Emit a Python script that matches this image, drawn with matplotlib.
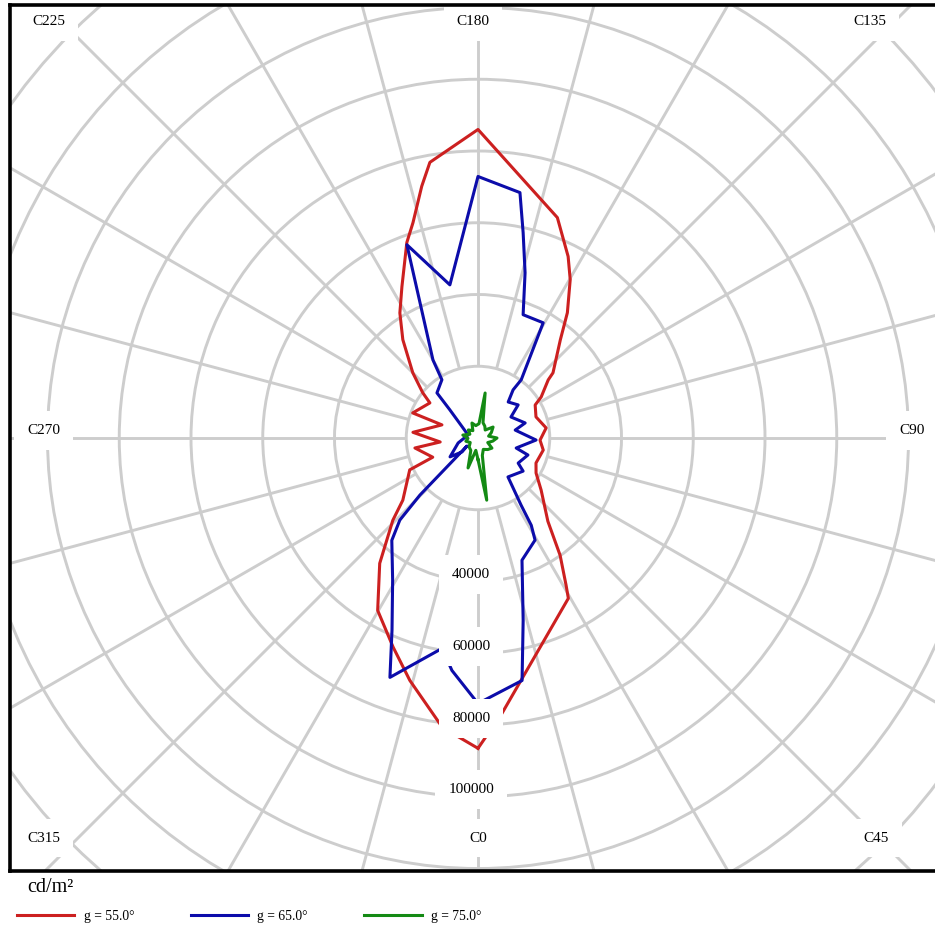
import matplotlib.pyplot as plt
import numpy as np
from matplotlib.patches import Circle

# luminance curves, C-plane angle (deg) -> cd/m2
red_angles = [0, 5, 29.4, 30.9, 35, 40, 50.5, 58.9, 66.7, 79.5, 88, 98.4, 110, 120, 123,
              129.6, 131, 140, 144.5, 149.8, 153.6, 160.2, 180, 189.9, 192.6, 196.8, 200,
              206.7, 212, 217.4, 225, 230.7, 233.9, 249, 250, 265, 276, 279, 293, 295,
              309.6, 314, 321.9, 329.8, 337.9, 344.3, 353]
red_values = [86500, 77000, 51300, 47800, 39900, 30300, 22800, 18900, 17600, 18500, 17300,
              19200, 17200, 18400, 21000, 25400, 27700, 35700, 42900, 51100, 56500, 65300,
              86000, 78000, 71900, 62700, 58000, 47200, 41100, 34500, 25700, 19900, 16600,
              19500, 10700, 18200, 10600, 17800, 13700, 21000, 27200, 33000, 44400, 55600,
              62900, 70200, 81300]

blue_angles = [0, 10.3, 13.9, 19.8, 29.2, 31.4, 32.7, 37.6, 53.7, 58, 71.2, 75.3, 88, 102,
               107.7, 122.5, 129.5, 140, 143.9, 143.4, 150.5, 159.9, 164.1, 167.6, 170.3,
               180, 190.4, 200.2, 210, 211.8, 222.3, 225, 236.3, 253, 284, 304, 311, 306,
               314.5, 316.4, 319.9, 329, 335.9, 339.8, 350.3, 353.6]
blue_values = [74000, 68700, 52400, 36200, 32600, 28500, 22200, 13700, 15600, 13200, 14700,
               11000, 16200, 10600, 13800, 10900, 14500, 13100, 16600, 20200, 36900, 36600,
               47900, 58600, 69400, 72900, 43400, 57400, 25100, 19100, 17000, 11100, 5000,
               2900, 5700, 9400, 5900, 3800, 22700, 31600, 37300, 46200, 58700, 71100,
               59500, 65200]

green_angles = [0, 8, 14, 25, 40, 54, 65, 78, 90, 100, 112, 126, 138, 150, 162, 171, 176,
                190, 202, 215, 230, 245, 259, 272, 285, 300, 315, 330, 341.6, 350]
green_values = [6000, 17500, 5000, 3500, 4200, 4800, 3000, 4200, 5300, 3000, 4000, 5200,
                3000, 3800, 4500, 12700, 4000, 3500, 4500, 2500, 3500, 2500, 4300, 2800,
                3500, 2500, 3500, 4000, 8800, 3500]

ring_values = np.arange(20000, 180000, 20000)
spoke_angles = np.arange(0, 360, 15)
ring_labels = [40000, 60000, 80000, 100000]

plane_labels = ['C225', 'C180', 'C135', 'C270', 'C90', 'C315', 'C0', 'C45']
plane_pos = [(0.0406, 0.9804), (0.4766, 0.9804), (0.8848, 0.9804),
             (0.0350, 0.5092), (0.9280, 0.5092),
             (0.0350, 0.0381), (0.4818, 0.0381), (0.8910, 0.0381)]


def to_xy(angles, values):
    t = np.radians(np.append(angles, angles[0]))
    v = np.append(values, values[0])
    return v * np.sin(t), -v * np.cos(t)


W, H = 935, 930
s = 3.5875 / 1000  # px per cd/m2
fig = plt.figure(figsize=(W / 100, H / 100), dpi=100)
ax = fig.add_axes([9.5 / W, 1 - 871 / H, 972.5 / W, 866 / H])
ax.set_xlim(-(478 - 9.5) / s, (982 - 478) / s)
ax.set_ylim(-(871 - 438) / s, (438 - 5) / s)
ax.set_xticks([])
ax.set_yticks([])
for sp in ax.spines.values():
    sp.set_linewidth(2.6)
    sp.set_zorder(5)

grid = '#cdcdcd'
for r in ring_values:
    ax.add_patch(Circle((0, 0), r, fill=False, ec=grid, lw=2.1, zorder=1))
for a in np.radians(spoke_angles):
    ax.plot([20000 * np.sin(a), 200000 * np.sin(a)],
            [-20000 * np.cos(a), -200000 * np.cos(a)],
            color=grid, lw=2.1, zorder=1, solid_capstyle='butt')

x, y = to_xy(red_angles, red_values)
hr, = ax.plot(x, y, color='#cc2020', lw=2.2, zorder=2, label='g = 55.0°')
x, y = to_xy(blue_angles, blue_values)
hb, = ax.plot(x, y, color='#0c0caa', lw=2.2, zorder=2, label='g = 65.0°')
x, y = to_xy(green_angles, green_values)
hg, = ax.plot(x, y, color='#148a14', lw=2.2, zorder=2, label='g = 75.0°')

box = dict(boxstyle='square,pad=0.85', fc='white', ec='none')
font = 'Liberation Serif'
for v in ring_labels:
    ax.annotate(str(v), xy=(0, -v), xytext=(-5, 5), textcoords='offset points',
                ha='center', va='center', fontsize=11, family=font, bbox=box, zorder=3)
for lab, (px, py) in zip(plane_labels, plane_pos):
    ax.text(px, py, lab, transform=ax.transAxes, ha='center', va='center',
            fontsize=11, family=font, bbox=box, zorder=3)

fig.text(27 / W, 1 - 887 / H, 'cd/m²', fontsize=14.5, family=font, va='center')
fig.legend(handles=[hr, hb, hg], loc='center left', bbox_to_anchor=(17 / W, 1 - 916 / H),
           ncol=3, frameon=False, borderpad=0, borderaxespad=0, handlelength=4.2,
           handletextpad=0.7, columnspacing=4.15, prop={'family': font, 'size': 9.8})

fig.savefig('out.png', dpi=100, facecolor='white')
